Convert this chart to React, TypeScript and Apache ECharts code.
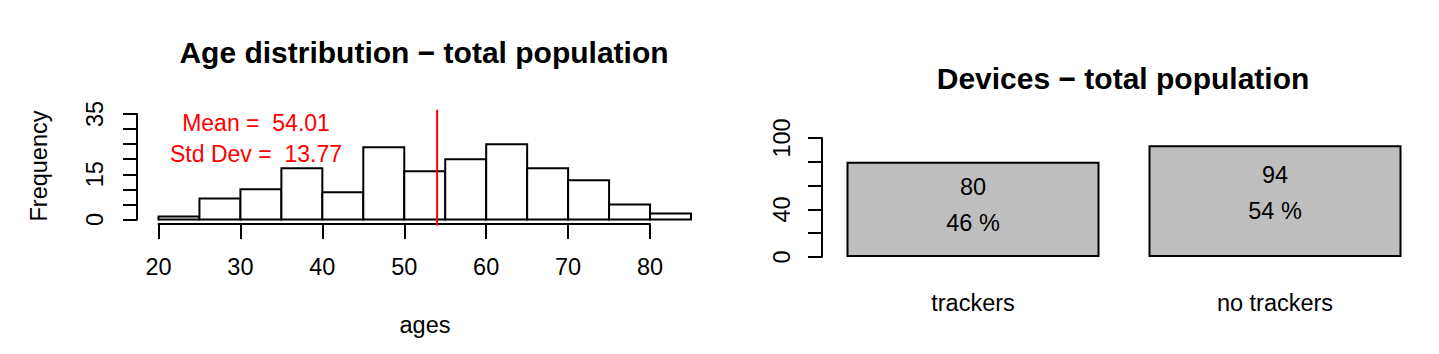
import React, { useEffect, useRef } from "react";
import * as echarts from "echarts";

// ---- data ----
const ageBinStarts = [20, 25, 30, 35, 40, 45, 50, 55, 60, 65, 70, 75, 80];
const ageBinWidth = 5;
const ageCounts = [1, 7, 10, 17, 9, 24, 16, 20, 25, 17, 13, 5, 2];
const meanAge = 54.01;
const sdAge = 13.77;
const histXTicks = [20, 30, 40, 50, 60, 70, 80];
const histYShown = [0, 15, 35];

const deviceCategories = ["trackers", "no trackers"];
const deviceCounts = [80, 94];
const devicePcts = [46, 54];
const devYShown = [0, 40, 100];

const FONT = "'Liberation Sans', Arial, Helvetica, sans-serif";
const FS = 23.5;

export default function App() {
  const ref = useRef<HTMLDivElement>(null);
  useEffect(() => {
    document.body.style.margin = "0";
    const chart = echarts.init(ref.current!, null, { renderer: "svg" });
    const hMin = 0, hMax = 35;
    const ext = 0.04 * (hMax - hMin);
    const option: any = {
      animation: false,
      textStyle: { fontFamily: FONT },
      grid: [
        { left: 158.5, top: 114, width: 532.5, height: 105.5, outerBoundsMode: "none" },
        { left: 158.5, top: 200, width: 491.5, height: 24, outerBoundsMode: "none" },
        { left: 822, top: 138, width: 604, height: 119, outerBoundsMode: "none" },
      ],
      xAxis: [
        { gridIndex: 0, type: "value", min: 20, max: 85, show: false },
        {
          gridIndex: 1, type: "value", min: histXTicks[0], max: histXTicks[histXTicks.length - 1], interval: 10,
          axisLine: { show: true, lineStyle: { color: "#000", width: 2 } },
          axisTick: { show: true, length: 15, lineStyle: { color: "#000", width: 2 } },
          axisLabel: { fontSize: FS, color: "#000", margin: 31, fontFamily: FONT },
          splitLine: { show: false },
        },
        {
          gridIndex: 2, type: "category", data: deviceCategories,
          axisLine: { show: false }, axisTick: { show: false },
          axisLabel: { fontSize: FS, color: "#000", margin: 34, fontFamily: FONT },
        },
      ],
      yAxis: [
        {
          gridIndex: 0, type: "value", min: hMin, max: hMax, interval: 5, offset: 21.5,
          axisLine: { show: true, lineStyle: { color: "#000", width: 2 } },
          axisTick: { show: true, length: 14, lineStyle: { color: "#000", width: 2 } },
          axisLabel: {
            fontSize: FS, color: "#000", rotate: 90, margin: 30, fontFamily: FONT,
            formatter: (v: number) => (histYShown.includes(v) ? String(v) : ""),
          },
          splitLine: { show: false },
        },
        { gridIndex: 1, type: "value", min: 0, max: 1, show: false },
        {
          gridIndex: 2, type: "value", min: 0, max: 100, interval: 20,
          axisLine: { show: true, lineStyle: { color: "#000", width: 2 } },
          axisTick: { show: true, length: 14, lineStyle: { color: "#000", width: 2 } },
          axisLabel: {
            fontSize: FS, color: "#000", rotate: 90, margin: 28, fontFamily: FONT,
            formatter: (v: number) => (devYShown.includes(v) ? String(v) : ""),
          },
          splitLine: { show: false },
        },
      ],
      series: [
        {
          type: "custom",
          xAxisIndex: 0, yAxisIndex: 0,
          data: ageBinStarts.map((s, i) => [s, s + ageBinWidth, ageCounts[i]]),
          renderItem: (params: any, api: any) => {
            const p0 = api.coord([api.value(0), 0]);
            const p1 = api.coord([api.value(1), api.value(2)]);
            return {
              type: "rect",
              shape: { x: p0[0], y: p1[1], width: p1[0] - p0[0], height: p0[1] - p1[1] },
              style: { fill: "#fff", stroke: "#000", lineWidth: 2 },
            };
          },
        },
        {
          type: "custom",
          xAxisIndex: 0, yAxisIndex: 0,
          clip: false,
          data: [[meanAge]],
          renderItem: (params: any, api: any) => {
            const a = api.coord([api.value(0), hMin - ext - 0.6]);
            const b = api.coord([api.value(0), hMax + ext]);
            return {
              type: "line",
              shape: { x1: a[0], y1: a[1], x2: b[0], y2: b[1] },
              style: { stroke: "#ff0000", lineWidth: 2 },
            };
          },
          z: 5,
        },
        {
          type: "bar",
          xAxisIndex: 2, yAxisIndex: 2,
          data: deviceCounts,
          barWidth: 253,
          itemStyle: { color: "#bebebe", borderColor: "#000", borderWidth: 2 },
          label: {
            show: true,
            position: ["50%", "26.5%"],
            offset: [0, -18],
            align: "center",
            verticalAlign: "top",
            fontSize: FS,
            lineHeight: 36,
            color: "#000",
            fontFamily: FONT,
            formatter: (p: any) => `${deviceCounts[p.dataIndex]}\n${devicePcts[p.dataIndex]} %`,
          },
        },
      ],
      graphic: [
        {
          type: "text", x: 424, y: 52,
          style: { text: "Age distribution \u2212 total population", font: `bold 30px ${FONT}`, fill: "#000", textAlign: "center", textVerticalAlign: "middle" },
        },
        {
          type: "text", x: 1123, y: 78,
          style: { text: "Devices \u2212 total population", font: `bold 30px ${FONT}`, fill: "#000", textAlign: "center", textVerticalAlign: "middle" },
        },
        {
          type: "text", x: 39, y: 166, rotation: Math.PI / 2,
          style: { text: "Frequency", font: `${FS}px ${FONT}`, fill: "#000", textAlign: "center", textVerticalAlign: "middle" },
        },
        {
          type: "text", x: 425, y: 325,
          style: { text: "ages", font: `${FS}px ${FONT}`, fill: "#000", textAlign: "center", textVerticalAlign: "middle" },
        },
        {
          type: "text", x: 256, y: 123,
          style: { text: `Mean =  ${meanAge.toFixed(2)}`, font: `23px ${FONT}`, fill: "#ff0000", textAlign: "center", textVerticalAlign: "middle" },
        },
        {
          type: "text", x: 256, y: 154,
          style: { text: `Std Dev =  ${sdAge.toFixed(2)}`, font: `23px ${FONT}`, fill: "#ff0000", textAlign: "center", textVerticalAlign: "middle" },
        },
      ],
    };
    chart.setOption(option);
    return () => chart.dispose();
  }, []);
  return <div ref={ref} style={{ width: 1439, height: 354 }} />;
}
